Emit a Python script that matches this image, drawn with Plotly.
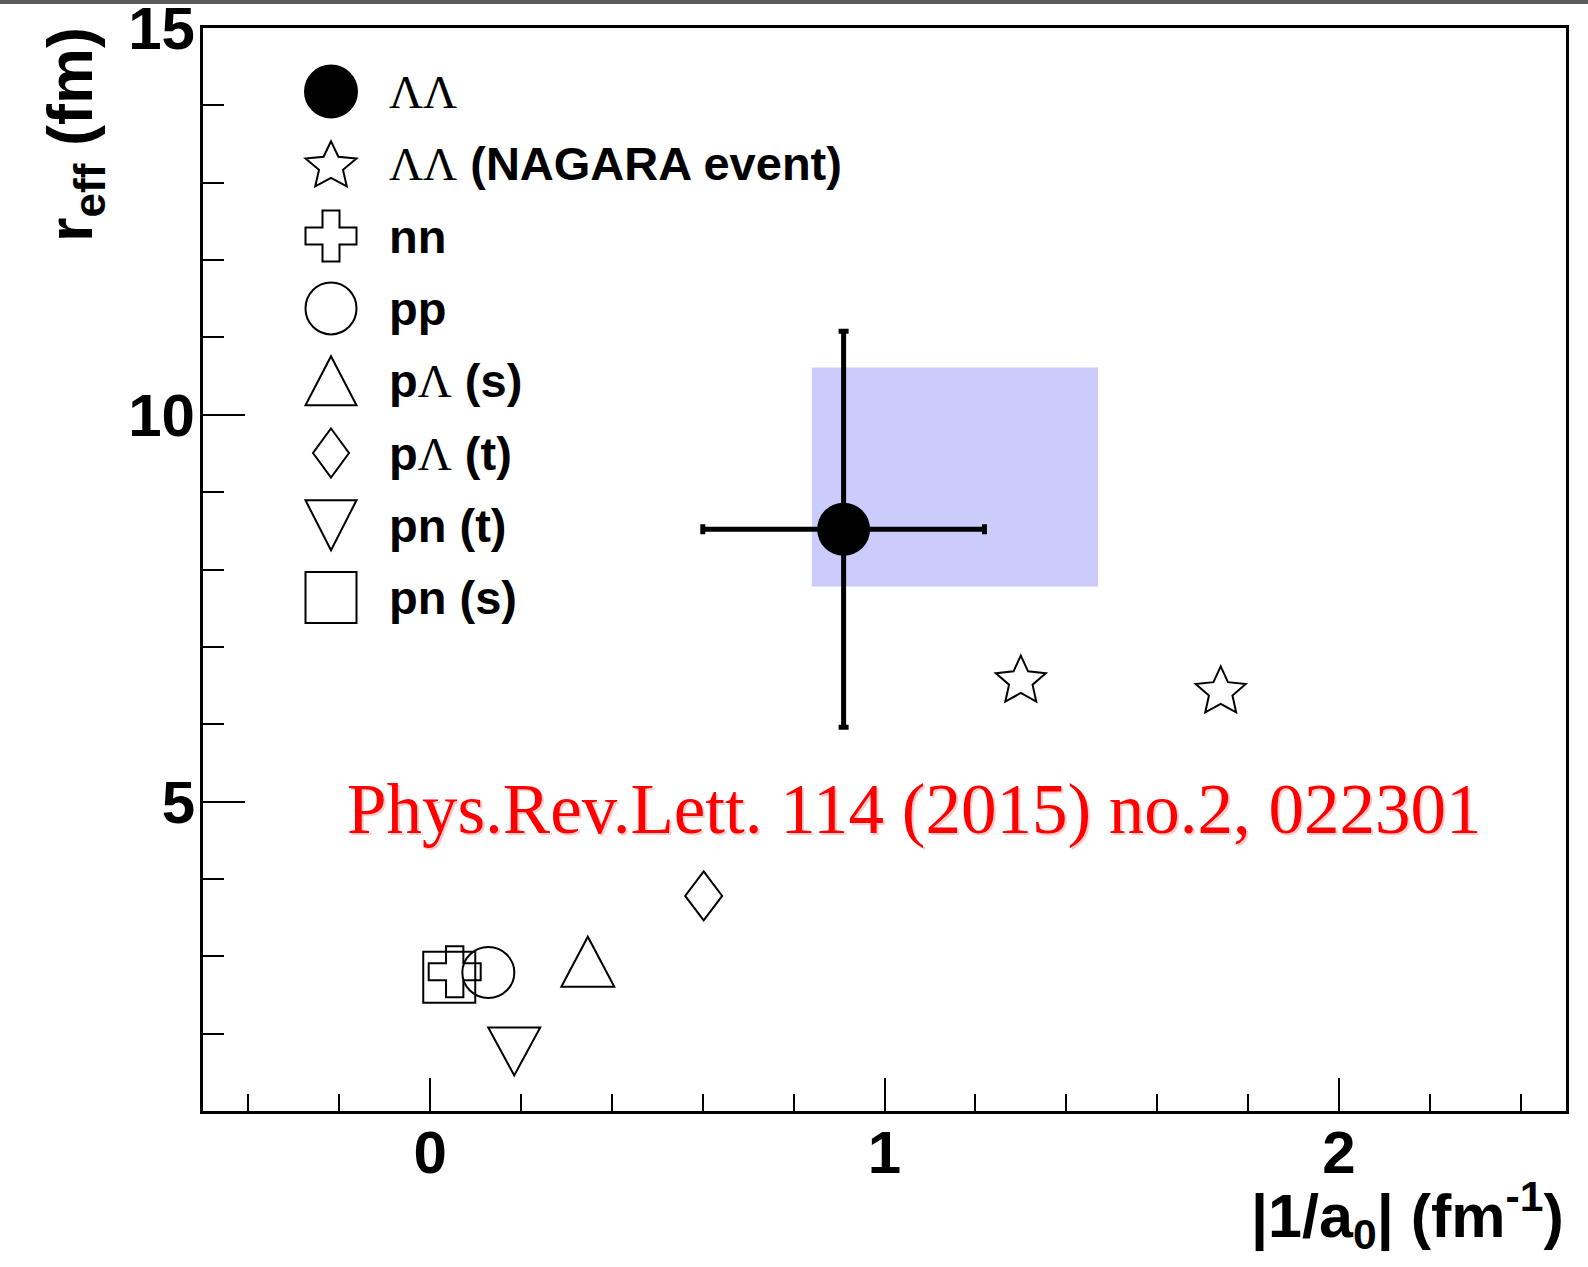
import math
import plotly.graph_objects as go

# ---------------- data ----------------
# Lambda-Lambda (STAR), stat errors and systematic box
ll_x = [0.91]
ll_y = [8.52]
ll_xerr = [0.31]
ll_yerr = [2.56]
ll_sys_x = [0.84, 1.47]
ll_sys_y = [7.78, 10.61]

# Lambda-Lambda from the NAGARA event
nagara_x = [1.30, 1.74]
nagara_y = [6.59, 6.45]

# nucleon-nucleon and p-Lambda references
nn_x, nn_y = [0.054], [2.80]
pp_x, pp_y = [0.128], [2.79]
pls_x, pls_y = [0.347], [2.93]   # pΛ singlet
plt_x, plt_y = [0.602], [3.78]   # pΛ triplet
pnt_x, pnt_y = [0.185], [1.77]   # pn triplet
pns_x, pns_y = [0.042], [2.73]   # pn singlet

LAM = "<span style=\"font-family:'Liberation Serif';font-weight:normal\">Λ</span>"
legend_labels = [
    LAM + LAM,
    LAM + LAM + " (NAGARA event)",
    "nn",
    "pp",
    "p" + LAM + " (s)",
    "p" + LAM + " (t)",
    "pn (t)",
    "pn (s)",
]
legend_glyphs = ["dot", "star", "cross", "circle", "tri_up", "diamond", "tri_down", "square"]

citation = "Phys.Rev.Lett. 114 (2015) no.2, 022301"

# ---------------- geometry ----------------
W, H = 1588, 1267
ML, MR, MT, MB = 203, 22, 28, 156
PW, PH = W - ML - MR, H - MT - MB


def px_x(p):
    return (p - ML) / PW


def px_y(p):
    return (MT + PH - p) / PH


def glyph_path(kind, w, h):
    """Outline path in pixel offsets (y up) centred on its bounding box."""
    a, b = w / 2.0, h / 2.0
    if kind == "square":
        pts = [(-a, -b), (a, -b), (a, b), (-a, b)]
    elif kind == "tri_up":
        pts = [(-a, -b), (a, -b), (0, b)]
    elif kind == "tri_down":
        pts = [(-a, b), (a, b), (0, -b)]
    elif kind == "diamond":
        pts = [(0, b), (a, 0), (0, -b), (-a, 0)]
    elif kind == "cross":
        s, t = w / 6.0, h / 6.0
        pts = [(-s, b), (s, b), (s, t), (a, t), (a, -t), (s, -t), (s, -b),
               (-s, -b), (-s, -t), (-a, -t), (-a, t), (-s, t)]
    elif kind == "star":
        R = h / 1.809
        r = R * 0.47
        cy = -0.0955 * R
        sx = a / (R * math.sin(math.radians(72)))
        pts = []
        for i in range(10):
            ang = math.radians(90 + 36 * i)
            rr = R if i % 2 == 0 else r
            pts.append((rr * math.cos(ang) * sx, cy + rr * math.sin(ang)))
    else:
        raise ValueError(kind)
    return "M" + " L".join(f"{x:.2f},{y:.2f}" for x, y in pts) + " Z"


def glyph_shape(kind, x, y, w, h, ref="data", filled=False):
    xr, yr = ("x", "y") if ref == "data" else ("paper", "paper")
    base = dict(xref=xr, yref=yr, xsizemode="pixel", ysizemode="pixel",
                xanchor=x, yanchor=y, layer="above",
                line=dict(color="black", width=2))
    if kind in ("circle", "dot"):
        base.update(type="circle", x0=-w / 2, x1=w / 2, y0=-h / 2, y1=h / 2,
                    fillcolor="black" if filled else "rgba(0,0,0,0)")
    else:
        base.update(type="path", path=glyph_path(kind, w, h),
                    fillcolor="rgba(0,0,0,0)")
    return base


fig = go.Figure()

fig.add_trace(go.Scatter(
    x=ll_x, y=ll_y, mode="markers",
    marker=dict(symbol="circle", size=53, color="black", line=dict(width=0)),
    error_x=dict(type="data", array=ll_xerr, color="black", thickness=5, width=5),
    error_y=dict(type="data", array=ll_yerr, color="black", thickness=5, width=5),
    showlegend=False, hoverinfo="skip"))

shapes = []
# systematic box for the Lambda-Lambda point
shapes.append(dict(type="rect", xref="x", yref="y",
                   x0=ll_sys_x[0], x1=ll_sys_x[1], y0=ll_sys_y[0], y1=ll_sys_y[1],
                   fillcolor="rgb(204,204,252)", line=dict(width=0), layer="below"))

for x, y in zip(nagara_x, nagara_y):
    shapes.append(glyph_shape("star", x, y, 50, 46))
for x, y in zip(pns_x, pns_y):
    shapes.append(glyph_shape("square", x, y, 52, 51))
for x, y in zip(nn_x, nn_y):
    shapes.append(glyph_shape("cross", x, y, 52, 51))
for x, y in zip(pp_x, pp_y):
    shapes.append(glyph_shape("circle", x, y, 52, 51))
for x, y in zip(pls_x, pls_y):
    shapes.append(glyph_shape("tri_up", x, y, 53, 50))
for x, y in zip(plt_x, plt_y):
    shapes.append(glyph_shape("diamond", x, y, 37, 49))
for x, y in zip(pnt_x, pnt_y):
    shapes.append(glyph_shape("tri_down", x, y, 52, 48))

# legend
leg_x = px_x(331)
leg_text_x = px_x(387)
leg_y0, leg_dy = 91.5, 72.3
leg_sizes = {"dot": (52, 52), "star": (51, 45), "cross": (51, 51), "circle": (51, 52),
             "tri_up": (51, 49), "diamond": (36, 49), "tri_down": (51, 50), "square": (51, 51)}
annotations = []
for i, (kind, label) in enumerate(zip(legend_glyphs, legend_labels)):
    cy = leg_y0 + i * leg_dy
    w, h = leg_sizes[kind]
    shapes.append(glyph_shape(kind, leg_x, px_y(cy), w, h, ref="paper", filled=(kind == "dot")))
    annotations.append(dict(xref="paper", yref="paper", x=leg_text_x, y=px_y(cy),
                            xanchor="left", yanchor="middle", showarrow=False, text=label,
                            font=dict(family="Liberation Sans", size=47, color="black",
                                      weight="bold")))

# dark strip along the top edge of the page
shapes.append(dict(type="rect", xref="paper", yref="paper",
                   x0=px_x(0), x1=px_x(W), y0=px_y(0), y1=px_y(4),
                   fillcolor="#5a5a5a", line=dict(width=0), layer="above"))

# axis titles
annotations.append(dict(xref="paper", yref="paper", x=1.0, y=px_y(1215),
                        xanchor="right", yanchor="middle", showarrow=False,
                        text="|1/a<sub>0</sub>| (fm<sup>-1</sup>)",
                        font=dict(family="Liberation Sans", size=61, color="black",
                                  weight="bold")))
annotations.append(dict(xref="paper", yref="paper", x=px_x(75), y=px_y(135),
                        xanchor="center", yanchor="middle", showarrow=False, textangle=-90,
                        text="r<sub>eff</sub> (fm)",
                        font=dict(family="Liberation Sans", size=63, color="black",
                                  weight="bold")))

# citation with a soft shadow
annotations.append(dict(xref="paper", yref="paper", x=px_x(347), y=px_y(811),
                        xanchor="left", yanchor="middle", showarrow=False, text=citation,
                        font=dict(family="Liberation Serif", size=71,
                                  color="rgba(255,80,80,0.30)")))
annotations.append(dict(xref="paper", yref="paper", x=px_x(345), y=px_y(809),
                        xanchor="left", yanchor="middle", showarrow=False, text=citation,
                        font=dict(family="Liberation Serif", size=71, color="#ff0000")))

tickfont = dict(family="Liberation Sans", size=60, color="black", weight="bold")

fig.update_layout(
    width=W, height=H, autosize=False,
    margin=dict(l=ML, r=MR, t=MT, b=MB, pad=0, autoexpand=False),
    paper_bgcolor="white", plot_bgcolor="white",
    showlegend=False,
    shapes=shapes, annotations=annotations,
    xaxis=dict(range=[-0.5, 2.5], tick0=0, dtick=1, ticks="inside", ticklen=33,
               tickwidth=2, tickcolor="black",
               minor=dict(ticks="inside", ticklen=17, dtick=0.2, tickwidth=2,
                          tickcolor="black"),
               showline=True, linewidth=3, linecolor="black", mirror=True,
               showgrid=False, zeroline=False, tickfont=tickfont, automargin=False,
               ticklabelstandoff=-13, ticklabeloverflow="allow"),
    yaxis=dict(range=[1, 15], tick0=0, dtick=5, ticks="inside", ticklen=42,
               tickwidth=2, tickcolor="black",
               minor=dict(ticks="inside", ticklen=21, dtick=1, tickwidth=2,
                          tickcolor="black"),
               showline=True, linewidth=3, linecolor="black", mirror=True,
               showgrid=False, zeroline=False, tickfont=tickfont, automargin=False,
               ticklabelstandoff=-7, ticklabeloverflow="allow"),
)

fig.write_html("out.html")
